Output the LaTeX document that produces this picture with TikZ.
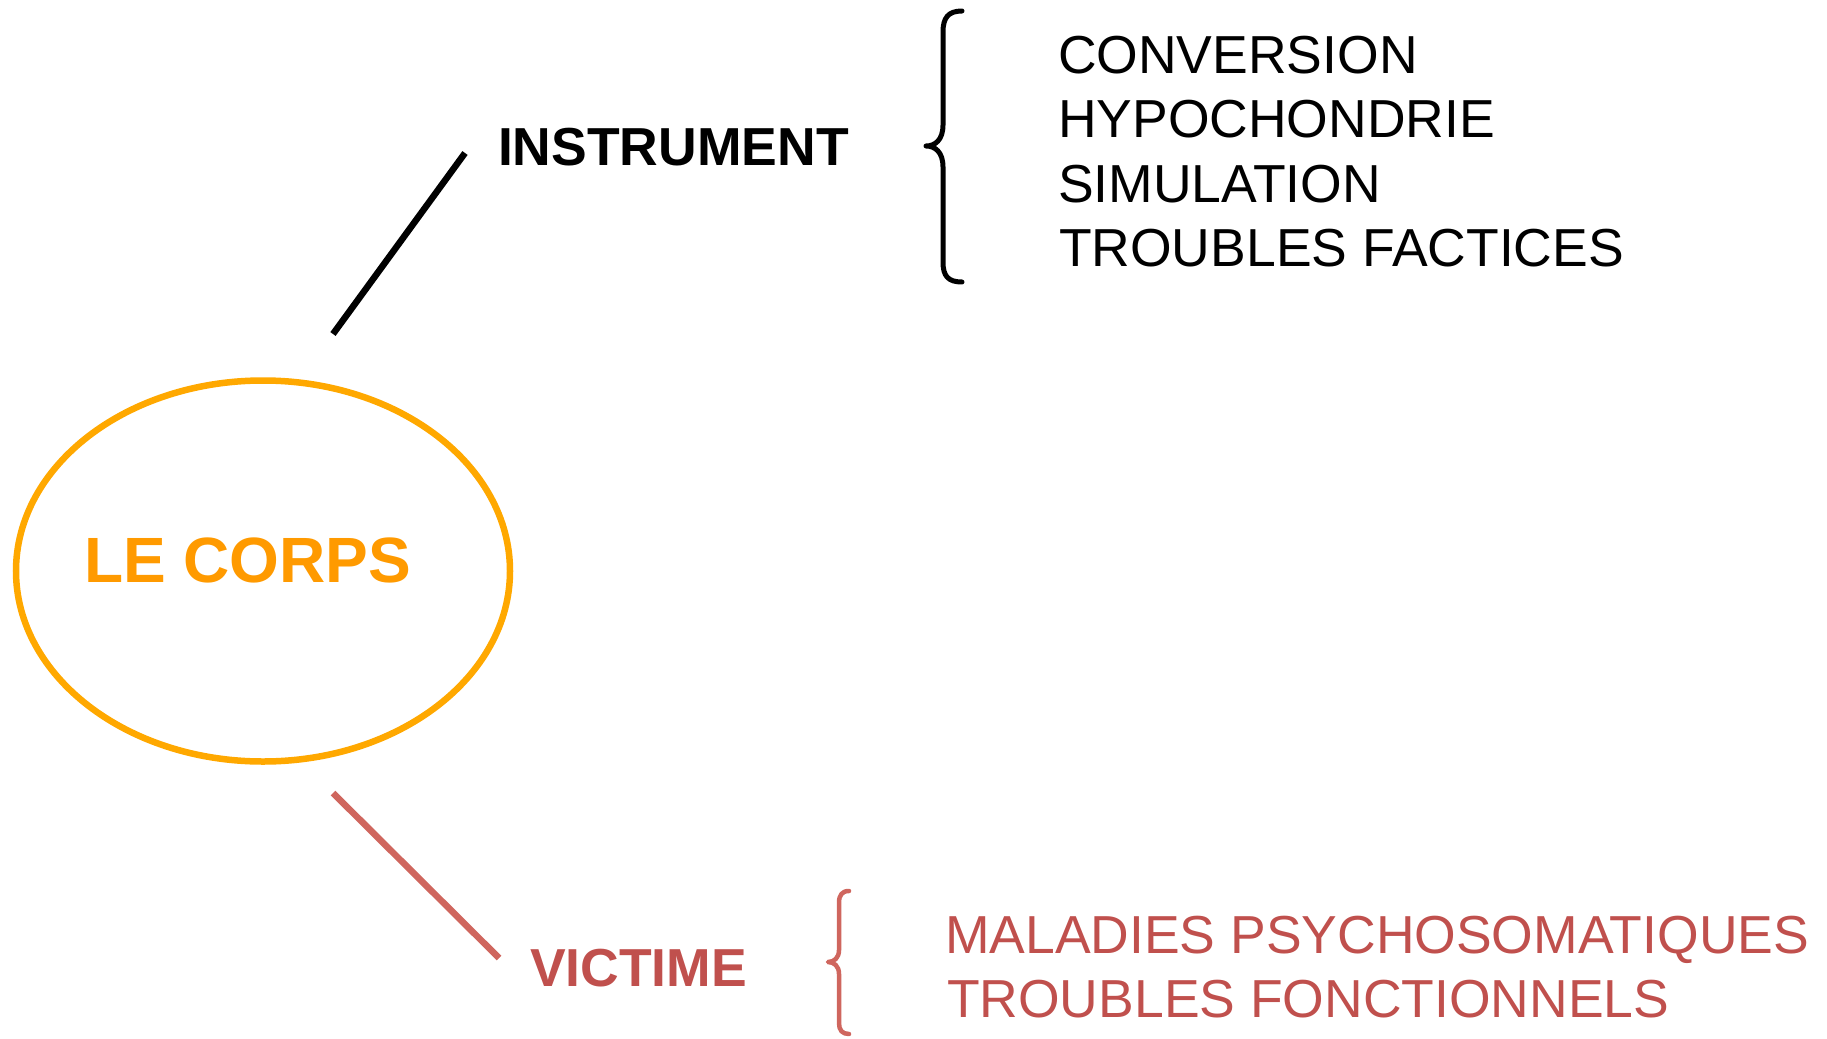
\documentclass[tikz,border=0pt]{standalone}
\usepackage{fontspec}
\setmainfont{Liberation Sans}
\usetikzlibrary{shapes.geometric}
\definecolor{corpsline}{HTML}{FFA800}
\definecolor{corpstext}{HTML}{FF9A00}
\definecolor{victext}{HTML}{C0504D}
\definecolor{vicline}{HTML}{CF665E}
\tikzset{
  txt/.style={inner sep=0pt, outer sep=0pt, anchor=base west},
  listfont/.style={font=\fontsize{53.5}{64}\selectfont},
  headfont/.style={font=\fontsize{53.5}{64}\selectfont\bfseries},
  bracestyle/.style={line width=5pt, line cap=round, line join=round},
  connector/.style={line width=6.5pt}
}
\begin{document}
\begin{tikzpicture}[x=1pt,y=-1pt]
\useasboundingbox (0,0) rectangle (1827,1038);
% central ellipse
\node[draw=corpsline, ellipse, line width=6.5pt, minimum width=494pt, minimum height=381pt, inner sep=0pt] (corps) at (263,571) {};
\node[txt, font=\fontsize{64}{70}\selectfont\bfseries, text=corpstext] (corpslabel) at (84,582) {LE CORPS};
% instrument branch
\coordinate (ia) at (333,334);
\coordinate (ib) at (465,153);
\draw[connector, black] (ia) -- (ib);
\node[txt, headfont] (instrument) at (498,165) {INSTRUMENT};
\draw[bracestyle, black] (962,11) .. controls (948,11) and (943,18) .. (943,32) -- (943,125) .. controls (943,140) and (935,146) .. (926,146) .. controls (935,146) and (943,152) .. (943,167) -- (943,262) .. controls (943,276) and (948,282) .. (962,282);
\node[txt, listfont] (l1) at (1058,74) {CONVERSION};
\node[txt, listfont] (l2) at (1058,138) {HYPOCHONDRIE};
\node[txt, listfont] (l3) at (1058,202) {SIMULATION};
\node[txt, listfont] (l4) at (1059,266) {TROUBLES FACTICES};
% victime branch
\coordinate (va) at (333,793);
\coordinate (vb) at (499,958);
\draw[connector, vicline] (va) -- (vb);
\node[txt, headfont, text=victext] (victime) at (530,986) {VICTIME};
\draw[bracestyle, vicline, line width=4.5pt] (849,891) .. controls (842,891) and (839,895) .. (839,903) -- (839,950) .. controls (839,958) and (834,962) .. (828,962) .. controls (834,962) and (839,966) .. (839,974) -- (839,1023) .. controls (839,1030) and (842,1034) .. (849,1034);
\node[txt, listfont, text=victext] (m1) at (945,953) {MALADIES PSYCHOSOMATIQUES};
\node[txt, listfont, text=victext] (m2) at (947,1017) {TROUBLES FONCTIONNELS};
\end{tikzpicture}
\end{document}
